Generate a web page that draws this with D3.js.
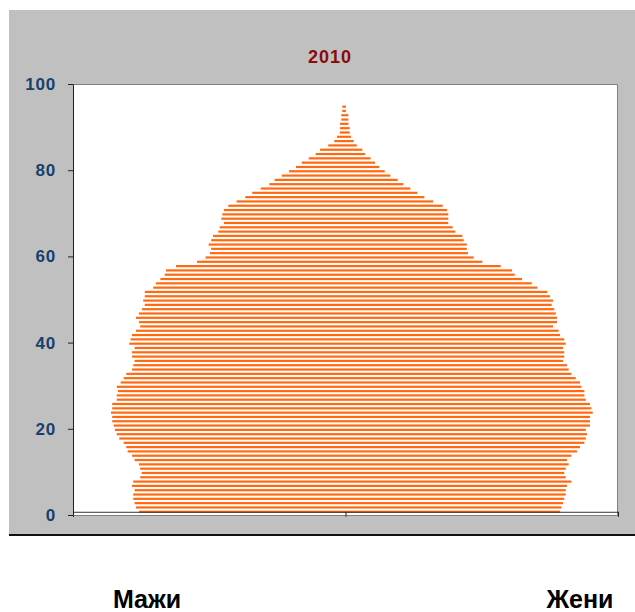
<!DOCTYPE html>
<html>
<head>
<meta charset="utf-8">
<script src="https://cdn.jsdelivr.net/npm/d3@7"></script>
<style>
  body { margin: 0; background: #fff; }
  svg { display: block; }
</style>
</head>
<body>
<div id="plot"></div>
<script>
// population by single year of age, 2010
var ages = [0, 1, 2, 3, 4, 5, 6, 7, 8, 9,
  10, 11, 12, 13, 14, 15, 16, 17, 18, 19,
  20, 21, 22, 23, 24, 25, 26, 27, 28, 29,
  30, 31, 32, 33, 34, 35, 36, 37, 38, 39,
  40, 41, 42, 43, 44, 45, 46, 47, 48, 49,
  50, 51, 52, 53, 54, 55, 56, 57, 58, 59,
  60, 61, 62, 63, 64, 65, 66, 67, 68, 69,
  70, 71, 72, 73, 74, 75, 76, 77, 78, 79,
  80, 81, 82, 83, 84, 85, 86, 87, 88, 89,
  90, 91, 92, 93, 94];

var males = [13640, 13840, 13930, 14020, 14020, 13930, 14100, 14020, 13560, 13460,
  13560, 13640, 13930, 14100, 14390, 14480, 14650, 14940, 15110, 15230,
  15310, 15410, 15410, 15490, 15410, 15410, 15110, 15110, 15030, 15110,
  14850, 14650, 14480, 14100, 14020, 13930, 14100, 14100, 13930, 14280,
  14190, 14100, 13840, 13560, 13640, 13840, 13640, 13440, 13260, 13360,
  13260, 13260, 12700, 12520, 12230, 11940, 11860, 11200, 9810, 9240,
  8950, 8870, 9040, 8870, 8750, 8400, 8310, 8030, 8200, 8140,
  8030, 7740, 7190, 6620, 6160, 5600, 5030, 4680, 4210, 3730,
  3270, 2890, 2430, 1970, 1680, 1140, 740, 560, 380, 360,
  360, 280, 280, 210, 210];

var females = [14170, 14260, 14370, 14450, 14550, 14550, 14630, 14920, 14550, 14450,
  14550, 14740, 14630, 14920, 15290, 15490, 15780, 15870, 15950, 15870,
  16150, 16150, 16150, 16330, 16240, 16150, 15870, 15780, 15780, 15580,
  15490, 15210, 14920, 14740, 14630, 14370, 14450, 14450, 14370, 14550,
  14450, 14170, 14080, 13710, 13970, 13970, 13890, 13790, 13620, 13710,
  13510, 13330, 12670, 12300, 11660, 11180, 11000, 10250, 9040, 8470,
  8090, 8010, 8010, 7810, 7720, 7250, 7080, 6790, 6790, 6790,
  6710, 6420, 5780, 5210, 4740, 4280, 3820, 3450, 2960, 2590,
  2230, 1950, 1660, 1290, 1110, 740, 540, 360, 280, 280,
  190, 190, 190, 30, 30];

var yTicks = [0, 20, 40, 60, 80, 100];
var xTicks = [-18000, 0, 18000];
var chartTitle = "2010";
var sexLabels = ["Мажи", "Жени"];

var svgWidth = 635;
var svgHeight = 612;

var plot = { left: 73, top: 84, right: 618, bottom: 515 };

var svg = d3.select("#plot")
  .append("svg")
  .attr("width", svgWidth)
  .attr("height", svgHeight);

// grey chart area
svg.append("rect")
  .attr("x", 9)
  .attr("y", 10)
  .attr("width", svgWidth - 9)
  .attr("height", 524)
  .attr("fill", "#c0c0c0");

svg.append("line")
  .attr("x1", 9)
  .attr("x2", svgWidth)
  .attr("y1", 535)
  .attr("y2", 535)
  .attr("stroke", "#111")
  .attr("stroke-width", 2);

// plot area
svg.append("rect")
  .attr("x", plot.left + 0.5)
  .attr("y", plot.top + 0.5)
  .attr("width", plot.right - plot.left - 1)
  .attr("height", plot.bottom - plot.top)
  .attr("fill", "#fff")
  .attr("stroke", "#808080");

var xScale = d3.scaleLinear()
  .domain([-18000, 18000])
  .range([plot.left, plot.right]);

var yScale = d3.scaleLinear()
  .domain([0, 100])
  .range([plot.bottom, plot.top]);

var barH = 2.2;
var barColor = "#ff6a10";

var chartGroup = svg.append("g");

// one row per age: men to the left of zero, women to the right
chartGroup.selectAll(".age")
  .data(ages)
  .enter()
  .append("rect")
  .attr("class", "age")
  .attr("x", (d, i) => xScale(-males[i]))
  .attr("width", (d, i) => xScale(females[i]) - xScale(-males[i]))
  .attr("y", d => yScale(d + 0.75) - barH / 2)
  .attr("height", barH)
  .attr("fill", barColor);

// category axis
var bottomAxis = d3.axisBottom(xScale)
  .tickValues(xTicks)
  .tickFormat("")
  .tickSizeOuter(0)
  .tickSize(5);

var xAxisG = svg.append("g")
  .attr("transform", `translate(0, ${yScale(0.75)})`)
  .call(bottomAxis);
xAxisG.select(".domain").attr("stroke", "#333");
xAxisG.selectAll(".tick line").attr("stroke", "#222");

// value axis
var leftAxis = d3.axisLeft(yScale)
  .tickValues(yTicks)
  .tickSize(5)
  .tickSizeOuter(0)
  .tickPadding(12);

var yAxisG = svg.append("g")
  .attr("transform", `translate(${plot.left}, 0)`)
  .call(leftAxis);
yAxisG.select(".domain").attr("stroke", "#222");
yAxisG.selectAll(".tick line").attr("stroke", "#222");
yAxisG.selectAll(".tick text")
  .attr("fill", "#17406d")
  .attr("font-family", "Liberation Sans, Arial, sans-serif")
  .attr("font-weight", "bold")
  .attr("font-size", "17px")
  .attr("letter-spacing", "0.8px");

svg.append("text")
  .attr("x", 330)
  .attr("y", 63)
  .attr("text-anchor", "middle")
  .attr("font-family", "Liberation Sans, Arial, sans-serif")
  .attr("font-weight", "bold")
  .attr("font-size", "18px")
  .attr("letter-spacing", "1px")
  .attr("fill", "#8b0a0a")
  .text(chartTitle);

svg.selectAll(".sex")
  .data(sexLabels)
  .enter()
  .append("text")
  .attr("class", "sex")
  .attr("x", (d, i) => i === 0 ? 147 : 580)
  .attr("y", 608)
  .attr("text-anchor", "middle")
  .attr("font-family", "Liberation Sans, Arial, sans-serif")
  .attr("font-weight", "bold")
  .attr("font-size", "25px")
  .attr("fill", "#000")
  .text(d => d);
</script>
</body>
</html>
